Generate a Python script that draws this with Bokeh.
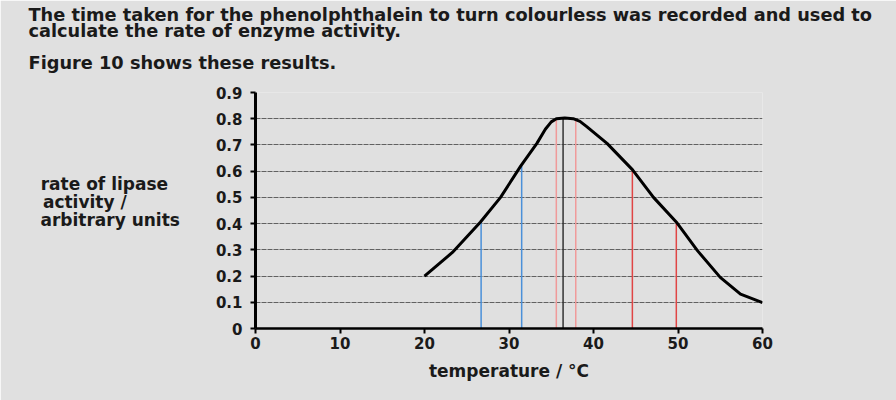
from bokeh.plotting import figure
from bokeh.models import Title, FixedTicker, Range1d
from bokeh.embed import file_html
from bokeh.resources import INLINE

# ---- data ----
temperature = [20.0, 23.3, 26.6, 29.0, 31.4, 33.3, 34.3, 35.0, 35.6, 36.6, 37.6,
               38.4, 39.2, 41.6, 44.6, 47.1, 49.9, 52.3, 55.0, 57.4, 60.0]
rate = [0.20, 0.29, 0.405, 0.50, 0.62, 0.706, 0.76, 0.788, 0.80, 0.803, 0.80,
        0.79, 0.77, 0.706, 0.606, 0.50, 0.402, 0.297, 0.195, 0.131, 0.099]

marker_temp = [26.7, 31.5, 35.6, 36.4, 37.9, 44.6, 49.8]
marker_rate = [0.405, 0.62, 0.80, 0.80, 0.80, 0.605, 0.40]
marker_colors = ["#4a90d9", "#4a90d9", "#f09a9a", "#333333", "#f09a9a", "#e04545", "#e04545"]

x_ticks = [0, 10, 20, 30, 40, 50, 60]
y_ticks = [0, 0.1, 0.2, 0.3, 0.4, 0.5, 0.6, 0.7, 0.8, 0.9]
grid_ticks = [0.1, 0.2, 0.3, 0.4, 0.5, 0.6, 0.7, 0.8, 0.9]

title_lines = [
    "The time taken for the phenolphthalein to turn colourless was recorded and used to",
    "calculate the rate of enzyme activity.",
    "Figure 10 shows these results.",
]
y_label_lines = ["rate of lipase", "activity /", "arbitrary units"]
x_label = "temperature / \u00b0C"

BG = "#e0e0e0"
TXT = "#1a1a1a"
FONT = "DejaVu Sans"
NB = "\u00a0"

p = figure(width=896, height=400, output_backend="svg", toolbar_location=None,
           x_range=Range1d(0, 60), y_range=Range1d(0, 0.9),
           min_border_left=255, min_border_right=134,
           min_border_top=92, min_border_bottom=72)
p.background_fill_color = BG
p.border_fill_color = BG
p.outline_line_color = None

# grid
p.xgrid.visible = False
p.ygrid.ticker = FixedTicker(ticks=grid_ticks)
p.ygrid.grid_line_color = "#4a4a4a"
p.ygrid.grid_line_width = 1
p.ygrid.grid_line_dash = "5 1"
p.ygrid.grid_line_alpha = 0.85

# axes
for ax in (p.xaxis[0], p.yaxis[0]):
    ax.axis_line_color = "black"
    ax.major_tick_line_color = "black"
    ax.major_tick_line_width = 2
    ax.major_tick_in = 0
    ax.major_tick_out = 5
    ax.minor_tick_line_color = None
    ax.major_label_text_font = FONT
    ax.major_label_text_font_style = "bold"
    ax.major_label_text_font_size = "15px"
    ax.major_label_text_color = TXT

p.xaxis[0].axis_line_width = 2.5
p.yaxis[0].axis_line_width = 3
p.xaxis[0].ticker = FixedTicker(ticks=x_ticks)
p.yaxis[0].ticker = FixedTicker(ticks=y_ticks)
p.yaxis[0].major_label_overrides = {0: "0"}
p.xaxis[0].major_label_standoff = 3
p.yaxis[0].major_label_standoff = 8

p.xaxis[0].axis_label = x_label
p.xaxis[0].axis_label_text_font = FONT
p.xaxis[0].axis_label_text_font_style = "bold"
p.xaxis[0].axis_label_text_font_size = "17px"
p.xaxis[0].axis_label_text_color = TXT
p.xaxis[0].axis_label_standoff = 9

# y label: horizontal block; lines padded with non-breaking spaces so they line up on the left
padded = [y_label_lines[0] + NB * 2, y_label_lines[1] + NB * 9, y_label_lines[2], NB]
yax = p.yaxis[0]
yax.axis_label = "\n".join(padded)
yax.axis_label_orientation = "horizontal"
yax.axis_label_text_font = FONT
yax.axis_label_text_font_style = "bold"
yax.axis_label_text_font_size = "17px"
yax.axis_label_text_line_height = 0.9
yax.axis_label_text_color = TXT
yax.axis_label_standoff = 33

# vertical marker lines
p.segment(x0=marker_temp, y0=[0] * len(marker_temp), x1=marker_temp, y1=marker_rate,
          line_color=marker_colors, line_width=1.5)

# curve
p.line(temperature, rate, line_color="black", line_width=3, line_join="round")

# tiny spacer title next to the plot, then the multi-line text block above it
p.add_layout(Title(text=NB, standoff=1, text_font=FONT, text_font_size="1px",
                   text_color=BG), "above")
title_text = "\n".join([title_lines[0], title_lines[1], NB, title_lines[2], NB])
p.add_layout(Title(text=title_text, align="left", offset=-227, standoff=0,
                   text_line_height=0.8,
                   text_font=FONT, text_font_style="bold",
                   text_font_size="17.75px", text_color=TXT), "above")

open("out.html", "w").write(file_html(p, INLINE))
